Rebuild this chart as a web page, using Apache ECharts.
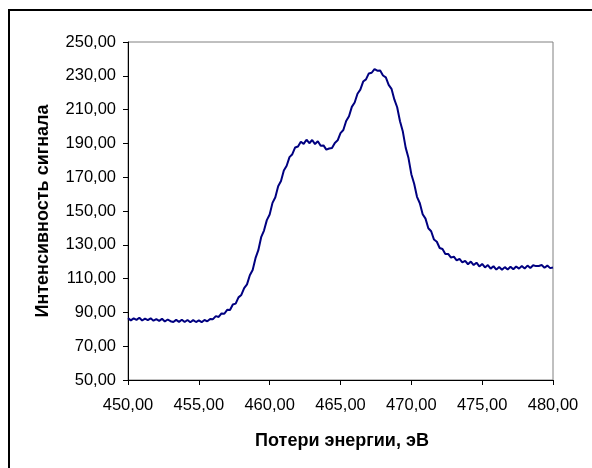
<!DOCTYPE html>
<html>
<head>
<meta charset="utf-8">
<script src="https://cdn.jsdelivr.net/npm/echarts@6/dist/echarts.min.js"></script>
<style>
  html, body { margin: 0; padding: 0; background: #fff; }
  #chart { width: 592px; height: 468px; }
</style>
</head>
<body>
<div id="chart"></div>
<script>
// Energy loss, eV
const energies = [
  450.0, 450.2, 450.4, 450.6, 450.8, 451.0, 451.2, 451.4, 451.6, 451.8,
  452.0, 452.2, 452.4, 452.6, 452.8, 453.0, 453.2, 453.4, 453.6, 453.8,
  454.0, 454.2, 454.4, 454.6, 454.8, 455.0, 455.2, 455.4, 455.6, 455.8,
  456.0, 456.2, 456.4, 456.6, 456.8, 457.0, 457.2, 457.4, 457.6, 457.8,
  458.0, 458.2, 458.4, 458.6, 458.8, 459.0, 459.2, 459.4, 459.6, 459.8,
  460.0, 460.2, 460.4, 460.6, 460.8, 461.0, 461.2, 461.4, 461.6, 461.8,
  462.0, 462.2, 462.4, 462.6, 462.8, 463.0, 463.2, 463.4, 463.6, 463.8,
  464.0, 464.2, 464.4, 464.6, 464.8, 465.0, 465.2, 465.4, 465.6, 465.8,
  466.0, 466.2, 466.4, 466.6, 466.8, 467.0, 467.2, 467.4, 467.6, 467.8,
  468.0, 468.2, 468.4, 468.6, 468.8, 469.0, 469.2, 469.4, 469.6, 469.8,
  470.0, 470.2, 470.4, 470.6, 470.8, 471.0, 471.2, 471.4, 471.6, 471.8,
  472.0, 472.2, 472.4, 472.6, 472.8, 473.0, 473.2, 473.4, 473.6, 473.8,
  474.0, 474.2, 474.4, 474.6, 474.8, 475.0, 475.2, 475.4, 475.6, 475.8,
  476.0, 476.2, 476.4, 476.6, 476.8, 477.0, 477.2, 477.4, 477.6, 477.8,
  478.0, 478.2, 478.4, 478.6, 478.8, 479.0, 479.2, 479.4, 479.6, 479.8,
  480.0
];

// Signal intensity at each energy
const intensity = [
  86.6, 85.3, 86.5, 85.6, 86.8, 85.2, 86.3, 85.4, 86.5, 85.1,
  86.0, 85.0, 86.2, 84.6, 85.8, 84.8, 84.3, 85.6, 84.4, 85.7,
  84.3, 85.5, 84.2, 85.4, 84.3, 85.3, 84.2, 85.5, 84.7, 86.1,
  86.0, 87.8, 87.3, 89.4, 89.2, 91.5, 91.4, 94.7, 95.2, 98.9,
  100.3, 104.4, 106.6, 112.0, 115.1, 122.1, 126.8, 134.5, 138.4, 144.6,
  147.9, 154.8, 158.1, 164.7, 167.8, 174.0, 176.8, 181.9, 183.6, 187.6,
  188.2, 191.0, 189.7, 192.2, 190.1, 192.0, 189.6, 191.3, 188.6, 188.8,
  186.3, 187.0, 187.3, 190.3, 191.8, 196.1, 197.9, 203.3, 206.1, 211.6,
  214.2, 219.4, 221.8, 226.6, 227.9, 231.4, 231.8, 234.0, 233.0, 233.1,
  230.2, 229.1, 224.6, 222.3, 216.0, 211.4, 203.1, 197.0, 187.5, 181.3,
  171.8, 166.1, 158.4, 154.6, 148.1, 145.5, 139.8, 138.0, 133.1, 131.8,
  128.1, 127.5, 124.5, 124.6, 122.4, 123.0, 120.8, 121.7, 119.6, 120.5,
  118.5, 120.1, 118.0, 119.4, 117.2, 118.7, 116.6, 118.0, 115.9, 117.3,
  115.3, 116.9, 115.2, 116.8, 115.4, 117.0, 115.5, 117.2, 115.9, 117.4,
  116.0, 117.7, 116.3, 117.9, 117.4, 117.5, 118.0, 116.4, 117.7, 116.2,
  116.6
];

const xTitle = 'Потери энергии, эВ';
const yTitle = 'Интенсивность сигнала';

const fmt = v => v.toFixed(2).replace('.', ',');
const font = 'Liberation Sans, Arial, sans-serif';

const chart = echarts.init(document.getElementById('chart'), null, { renderer: 'canvas' });

chart.setOption({
  animation: false,
  backgroundColor: '#ffffff',
  grid: {
    left: 128, right: 39, top: 42, bottom: 88,
    show: true,
    borderColor: '#808080',
    borderWidth: 1,
    backgroundColor: '#ffffff'
  },
  xAxis: {
    type: 'value',
    min: 450, max: 480, interval: 5,
    axisLine: { show: true, lineStyle: { color: '#000', width: 1 } },
    axisTick: { show: true, length: 5, lineStyle: { color: '#000' } },
    axisLabel: { formatter: fmt, color: '#000', fontFamily: font, fontSize: 16.5, margin: 17 },
    splitLine: { show: false }
  },
  yAxis: {
    type: 'value',
    min: 50, max: 250, interval: 20,
    axisLine: { show: true, lineStyle: { color: '#000', width: 1 } },
    axisTick: { show: true, length: 5, lineStyle: { color: '#000' } },
    axisLabel: { formatter: fmt, color: '#000', fontFamily: font, fontSize: 16.5, margin: 12 },
    splitLine: { show: false }
  },
  graphic: [
    {
      type: 'rect',
      shape: { x: 9, y: 10, width: 700, height: 600 },
      style: { fill: 'none', stroke: '#000', lineWidth: 2 },
      silent: true
    },
    {
      type: 'text',
      x: 342, y: 441,
      style: {
        text: xTitle, fill: '#000', font: 'bold 18px ' + font,
        textAlign: 'center', textVerticalAlign: 'middle'
      }
    },
    {
      type: 'text',
      x: 43, y: 211, rotation: Math.PI / 2,
      style: {
        text: yTitle, fill: '#000', font: 'bold 18px ' + font,
        textAlign: 'center', textVerticalAlign: 'middle'
      }
    }
  ],
  series: [{
    type: 'line',
    data: energies.map((e, i) => [e, intensity[i]]),
    showSymbol: false,
    lineStyle: { color: '#000080', width: 2 },
    smooth: false
  }]
});
</script>
</body>
</html>
